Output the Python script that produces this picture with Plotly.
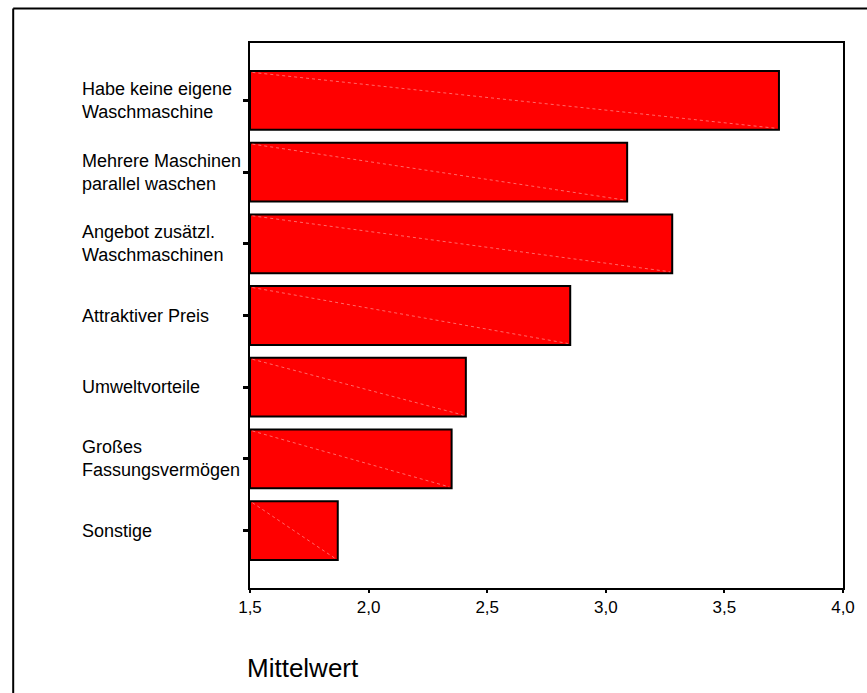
import plotly.graph_objects as go

categories = [
    "Habe keine eigene<br>Waschmaschine",
    "Mehrere Maschinen<br>parallel waschen",
    "Angebot zusätzl.<br>Waschmaschinen",
    "Attraktiver Preis",
    "Umweltvorteile",
    "Großes<br>Fassungsvermögen",
    "Sonstige",
]
values = [3.73, 3.09, 3.28, 2.85, 2.41, 2.35, 1.87]
x_ticks = [1.5, 2.0, 2.5, 3.0, 3.5, 4.0]
x_title = "Mittelwert"

BASE = 1.5
BAR_W = 0.82
W, H = 867, 693
ML, MR, MT, MB = 250, 21, 43, 105
PW = W - ML - MR
PH = H - MT - MB

pos = list(range(len(categories)))

fig = go.Figure()
fig.add_trace(go.Bar(
    x=[v - BASE for v in values],
    base=BASE,
    y=pos,
    orientation="h",
    width=BAR_W,
    marker=dict(color="#ff0000", line=dict(color="black", width=2)),
    hoverinfo="skip",
))

# faint diagonal pattern line in each bar (top-left to bottom-right)
for p, v in zip(pos, values):
    fig.add_trace(go.Scatter(
        x=[BASE + 0.01, v - 0.01],
        y=[p - BAR_W / 2 + 0.02, p + BAR_W / 2 - 0.02],
        mode="lines",
        line=dict(color="rgba(255,150,150,0.7)", width=1, dash="3px,3px"),
        hoverinfo="skip",
        showlegend=False,
    ))

font_family = "Liberation Sans, Arial, sans-serif"

annotations = []
for p, c in zip(pos, categories):
    annotations.append(dict(
        x=(79 - ML) / PW, xref="paper", xanchor="left",
        y=p, yref="y", yanchor="middle",
        text=c, align="left", showarrow=False,
        font=dict(family=font_family, size=18, color="black"),
    ))
annotations.append(dict(
    x=(245 - ML) / PW, xref="paper", xanchor="left",
    y=(PH + MT - 668) / PH, yref="paper", yanchor="middle",
    text=x_title, showarrow=False,
    font=dict(family=font_family, size=26, color="black"),
))

shapes = [
    # outer frame (left and top edges visible)
    dict(type="line", xref="paper", yref="paper",
         x0=(12 - ML) / PW, x1=(12 - ML) / PW,
         y0=(PH + MT - 8.5) / PH, y1=(PH + MT - 700) / PH,
         line=dict(color="black", width=2)),
    dict(type="line", xref="paper", yref="paper",
         x0=(12 - ML) / PW, x1=(880 - ML) / PW,
         y0=(PH + MT - 8.5) / PH, y1=(PH + MT - 8.5) / PH,
         line=dict(color="black", width=2)),
]

fig.update_layout(
    width=W, height=H,
    margin=dict(l=ML, r=MR, t=MT, b=MB),
    paper_bgcolor="white", plot_bgcolor="white",
    showlegend=False,
    separators=",.",
    font=dict(family=font_family, size=17, color="black"),
    annotations=annotations,
    shapes=shapes,
    hovermode=False,
    xaxis=dict(
        range=[1.5, 4.0], tickvals=x_ticks, tickformat=".1f",
        showgrid=False, zeroline=False,
        showline=True, linecolor="black", linewidth=2, mirror=True,
        ticks="outside", ticklen=3, tickwidth=2, tickcolor="black",
        tickfont=dict(size=17),
    ),
    yaxis=dict(
        range=[6.8, -0.8], tickvals=pos, showticklabels=False,
        showgrid=False, zeroline=False,
        showline=True, linecolor="black", linewidth=2, mirror=True,
        ticks="outside", ticklen=5, tickwidth=3, tickcolor="black",
    ),
)

fig.write_html("out.html")
